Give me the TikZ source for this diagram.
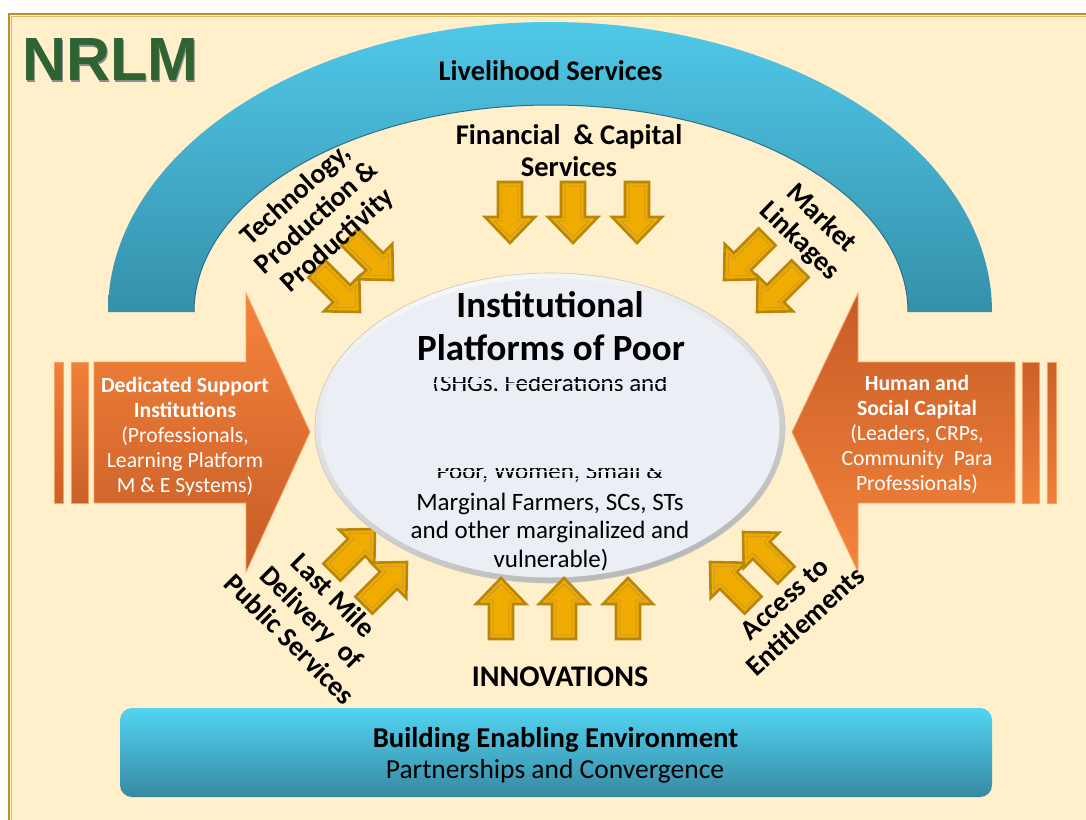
\documentclass[tikz,border=0pt]{standalone}
\usepackage{fontspec}
\setmainfont{Carlito}
\newfontfamily\arialf{Liberation Sans}
\usetikzlibrary{shadings}
\definecolor{cream}{HTML}{FFEFCA}
\definecolor{framegold}{HTML}{B8902C}
\definecolor{framelight}{HTML}{DDBE66}
\definecolor{nrlmgreen}{HTML}{2F6332}
\definecolor{archtop}{HTML}{50C8E8}
\definecolor{archbot}{HTML}{3590AA}
\definecolor{archedge}{HTML}{2A7188}
\definecolor{ygold}{HTML}{F0AC00}
\definecolor{ydark}{HTML}{B8860B}
\definecolor{olight}{HTML}{F5843C}
\definecolor{odark}{HTML}{C65C26}
\definecolor{oedge}{HTML}{F7A263}
\definecolor{ellfill}{HTML}{ECEEF6}
\definecolor{bartop}{HTML}{52D4F2}
\definecolor{barbot}{HTML}{3789A2}
\begin{document}
\begin{tikzpicture}[x=1pt,y=-1pt,
  yfill/.style={fill=ygold, draw=ydark, line width=2.6pt, line join=miter},
  yinner/.style={draw=ydark!85, line width=0.8pt, line join=miter},
  yarrow/.pic={
    \path[yfill] (0,0) -- (25,26) -- (12,26) -- (12,61) -- (-12,61) -- (-12,26) -- (-25,26) -- cycle;
    \path[yinner] (0,6) -- (16,22) -- (8,22) -- (8,57) -- (-8,57) -- (-8,22) -- (-16,22) -- cycle;
  },
  oarrow/.style={draw=oedge, line width=0.8pt},
  hd/.style={font=\fontsize{28.4}{32}\selectfont\bfseries, inner sep=0pt, anchor=base},
  hdb/.style={font=\fontsize{28.5}{32}\selectfont\bfseries, inner sep=0pt, anchor=base},
  rl/.style={font=\fontsize{28}{31}\selectfont\bfseries, align=center, inner sep=0pt},
  otext/.style={font=\fontsize{21.7}{25}\selectfont, text=white, align=center, inner sep=0pt},
  ttl/.style={font=\fontsize{37}{42}\selectfont\bfseries, inner sep=0pt, anchor=base},
  body/.style={font=\fontsize{25}{28.7}\selectfont, inner sep=0pt, anchor=base}
]
\useasboundingbox (0,0) rectangle (1086,819);
\fill[white] (0,0) rectangle (1086,819);
\fill[cream] (9,14) rectangle (1100,830);
\draw[framegold, line width=1.8pt] (9,14) rectangle (1100,830);
\draw[framelight, line width=0.8pt] (11.8,16.8) rectangle (1097,827);

% NRLM title
\node[anchor=base west, inner sep=0pt, font=\arialf\bfseries\fontsize{61}{61}\selectfont, text=gray!90] (nrlmshadow) at (23.3,82) {NRLM};
\node[anchor=base west, inner sep=0pt, font=\arialf\bfseries\fontsize{61}{61}\selectfont, text=nrlmgreen] (nrlm) at (22,80) {NRLM};

% Arch
\shade[top color=archtop, bottom color=archbot] (108,312) arc[start angle=180, end angle=0, x radius=442pt, y radius=290pt] -- (908,312) arc[start angle=0, end angle=180, x radius=357pt, y radius=207pt] -- cycle;
\draw[archedge, line width=1pt] (908,312) arc[start angle=0, end angle=180, x radius=357pt, y radius=207pt];
\node[hd] (ls) at (550.5,80) {Livelihood Services};

% Orange arrows
\shade[oarrow, top color=olight, bottom color=odark] (94,362) -- (246,362) -- (246,293) -- (310,432) -- (246,572) -- (246,503) -- (94,503) -- cycle;
\shade[oarrow, top color=olight!90!odark, bottom color=odark!90!olight] (54,362) rectangle (63,503);
\shade[oarrow, top color=olight!90!odark, bottom color=odark!90!olight] (71,362) rectangle (88,503);
\shade[oarrow, top color=odark, bottom color=olight] (1015,362) -- (858,362) -- (858,293) -- (792,432) -- (858,572) -- (858,503) -- (1015,503) -- cycle;
\shade[oarrow, top color=odark!90!olight, bottom color=olight!90!odark] (1022,362) rectangle (1039,503);
\shade[oarrow, top color=odark!90!olight, bottom color=olight!90!odark] (1047,362) rectangle (1056,503);
\node[otext] (dsi) at (185,437) {\textbf{Dedicated Support}\\\textbf{Institutions}\\(Professionals,\\Learning Platform\\M \& E Systems)};
\node[otext] (hsc) at (917,434) {\textbf{Human and}\\\textbf{Social Capital}\\(Leaders, CRPs,\\Community\ \ Para\\Professionals)};

% Yellow arrows
\pic[rotate=-135] at (360,312) {yarrow};
\pic[rotate=-135] at (393,280) {yarrow};
\pic[rotate=135] at (724,280) {yarrow};
\pic[rotate=135] at (757,312) {yarrow};
\pic[rotate=-45] at (375,529) {yarrow};
\pic[rotate=-45] at (407,562) {yarrow};
\pic[rotate=45] at (710,562) {yarrow};
\pic[rotate=45] at (743,532) {yarrow};
\pic[rotate=180] at (510,243) {yarrow};
\pic[rotate=180] at (573,243) {yarrow};
\pic[rotate=180] at (637,243) {yarrow};

% Central ellipse
\shade[upper left=white, upper right=white!85!gray, lower left=gray!40, lower right=gray!65, draw=gray!45, line width=0.6pt] (550,428) ellipse [x radius=235pt, y radius=155pt];
\fill[ellfill] (550,428) ellipse [x radius=229.5pt, y radius=149.5pt];

\pic at (501,578) {yarrow};
\pic at (564,578) {yarrow};
\pic at (628,578) {yarrow};

% Ellipse text
\node[ttl] (t1) at (550,317) {Institutional};
\node[ttl] (t2) at (551,360) {Platforms of Poor};
\begin{scope}
  \clip (400,376.5) rectangle (700,379) (400,380) rectangle (700,382.5) (400,383.5) rectangle (700,386) (400,387) rectangle (700,390);
  \node[body] (t3) at (550,391) {(SHGs, Federations and};
\end{scope}
\begin{scope}
  \clip (400,468) rectangle (700,470.5) (400,471.5) rectangle (700,474) (400,475) rectangle (700,477.5) (400,478.5) rectangle (700,484);
  \node[body] (t4) at (550,479.5) {Poor, Women, Small \&};
\end{scope}
\node[body] (t5) at (550,510) {Marginal Farmers, SCs, STs};
\node[body] (t6) at (550,538) {and other marginalized and};
\node[body] (t7) at (551,567) {vulnerable)};

% Labels
\node[hdb] (fc1) at (569,144) {Financial\ \ \& Capital};
\node[hdb] (fc2) at (569,176) {Services};
\node[rl, rotate=42] (tpp) at (317,218) {Technology,\\Production \&\\Productivity};
\node[rl, rotate=-44] (ml) at (810,230) {Market\\Linkages};
\node[rl, rotate=-45] (lmd) at (312,617) {Last Mile\\Delivery\ \ of\\Public Services};
\node[rl, rotate=42] (ate) at (795,610) {Access to\\Entitlements};
\node[font=\fontsize{30}{32}\selectfont\bfseries, inner sep=0pt, anchor=base] (inn) at (560,686) {INNOVATIONS};

% Bottom bar
\shade[top color=bartop, bottom color=barbot, rounded corners=12pt] (120,708) rectangle (992,797);
\node[font=\fontsize{28.7}{30}\selectfont\bfseries, inner sep=0pt, anchor=base] (bee) at (555.5,747) {Building Enabling Environment};
\node[font=\fontsize{27.5}{30}\selectfont, inner sep=0pt, anchor=base] (pc) at (555,778) {Partnerships and Convergence};
\end{tikzpicture}
\end{document}
